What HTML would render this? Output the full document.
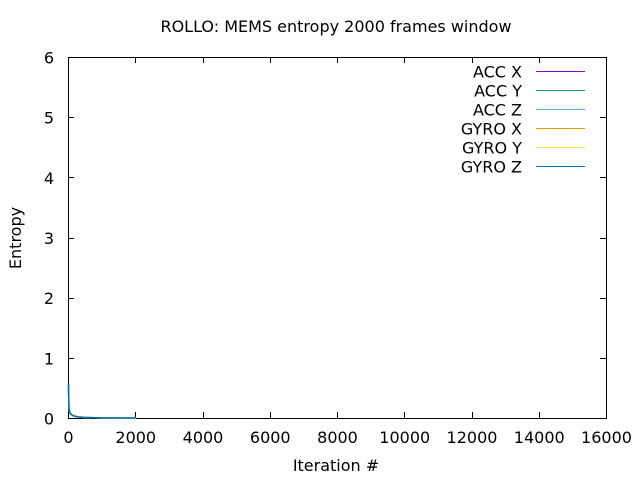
<!DOCTYPE html>
<html><head><meta charset="utf-8"><style>body{margin:0;background:#fff}svg{display:block}text{font-family:"DejaVu Sans",sans-serif;font-size:16px;fill:#000}</style></head>
<body>
<svg id="chart" width="640" height="480" xmlns="http://www.w3.org/2000/svg">
<text x="336" y="32" text-anchor="middle" font-size="16">ROLLO: MEMS entropy 2000 frames window</text>
<rect x="68.5" y="57.5" width="538" height="361" fill="none" stroke="#000" stroke-width="1"/>
<g id="axes"></g>
<g id="series"></g>
<g id="legend"></g>
<text x="336" y="471" text-anchor="middle">Iteration #</text>
<text transform="translate(21,238) rotate(-90)" text-anchor="middle">Entropy</text>
</svg>
<script>
const xTicks=[0,2000,4000,6000,8000,10000,12000,14000,16000];
const yTicks=[0,1,2,3,4,5,6];
const seriesNames=["ACC X","ACC Y","ACC Z","GYRO X","GYRO Y","GYRO Z"];
const seriesColors=["#9400d3","#009e73","#56b4e9","#e69f00","#f0e442","#0072b2"];
const iters=[1,10,20,40,60,80,100,150,200,300,400,600,800,1000,1500,2000];
const entropy=[0.58,0.22,0.15,0.1,0.08,0.07,0.06,0.045,0.035,0.025,0.02,0.015,0.012,0.01,0.008,0.007];
const NS="http://www.w3.org/2000/svg";
const X=v=>68.5+v/16000*538, Y=v=>418.5-v/6*361;
const ax=document.getElementById('axes'),se=document.getElementById('series'),lg=document.getElementById('legend');
function mk(t,a,p){const e=document.createElementNS(NS,t);for(const k in a)e.setAttribute(k,a[k]);p.appendChild(e);return e;}
xTicks.forEach(t=>{
 const x=Math.round(X(t)-0.5)+0.5;
 const l=mk('path',{d:`M${x} 418v-6M${x} 57v6`,stroke:'#000'},ax);
 
 
 const tx=mk('text',{x:X(t),y:443,'text-anchor':'middle'},ax);tx.textContent=t;
 
 
});
yTicks.forEach(t=>{
 const y=Math.round(Y(t)-0.5)+0.5;
 const l=mk('path',{d:`M68 ${y}h6M606 ${y}h-6`,stroke:'#000'},ax);
 
 
 const tx=mk('text',{x:54,y:Y(t)+6,'text-anchor':'end'},ax);tx.textContent=t;
 
 
});
seriesNames.forEach((n,i)=>{
 let d='';iters.forEach((v,j)=>{d+=(j?'L':'M')+X(v).toFixed(2)+' '+Y(entropy[j]).toFixed(2);});
 const p=mk('path',{d,fill:'none',stroke:seriesColors[i],'stroke-width':1.5},se);
 
 
 const y=71.5+i*19;
 const t=mk('text',{x:522,y:y+6,'text-anchor':'end'},lg);t.textContent=n;
 
 
 const l=mk('line',{x1:536,x2:585,y1:y,y2:y,stroke:seriesColors[i],'stroke-width':1},lg);
 
 
});
</script>
</body></html>
